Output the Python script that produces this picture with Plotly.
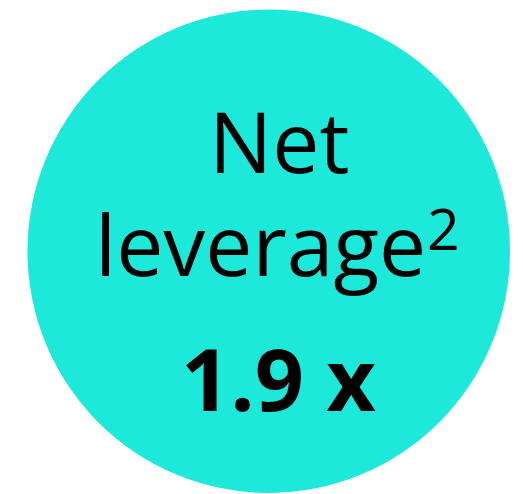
import plotly.graph_objects as go

# Data
title_line1 = "Net"
title_line2 = "leverage"
footnote_mark = "2"
value = 1.9
value_unit = "x"

W, H = 523, 494
circle_color = "#1CE9D9"

fig = go.Figure()
fig.add_shape(type="circle", xref="x", yref="y",
              x0=27.5, x1=510, y0=9.5, y1=493,
              fillcolor=circle_color, line=dict(width=0), layer="below")

font_reg = dict(family="Open Sans", size=84, color="#000000")
font_sup = dict(family="Open Sans", size=57, color="#000000")
font_bold = dict(family="Open Sans", size=86, color="#000000", weight="bold")

fig.add_annotation(x=278.5, y=140, xref="x", yref="y", text=title_line1,
                   showarrow=False, font=font_reg, xanchor="center", yanchor="middle")
fig.add_annotation(x=260, y=243.5, xref="x", yref="y", text=title_line2,
                   showarrow=False, font=font_reg, xanchor="center", yanchor="middle")
fig.add_annotation(x=443.7, y=227.7, xref="x", yref="y", text=footnote_mark,
                   showarrow=False, font=font_sup, xanchor="center", yanchor="middle")
fig.add_annotation(x=278, y=377, xref="x", yref="y",
                   text=f"<b>{value:.1f} {value_unit}</b>",
                   showarrow=False, font=font_bold, xanchor="center", yanchor="middle")

fig.update_xaxes(range=[0, W], visible=False, fixedrange=True)
fig.update_yaxes(range=[H, 0], visible=False, fixedrange=True)
fig.update_layout(width=W, height=H, margin=dict(l=0, r=0, t=0, b=0),
                  paper_bgcolor="white", plot_bgcolor="white", showlegend=False)
fig.write_html("out.html", config={"displayModeBar": False},
               post_script="document.body.style.margin='0';document.body.style.overflow='hidden';")
